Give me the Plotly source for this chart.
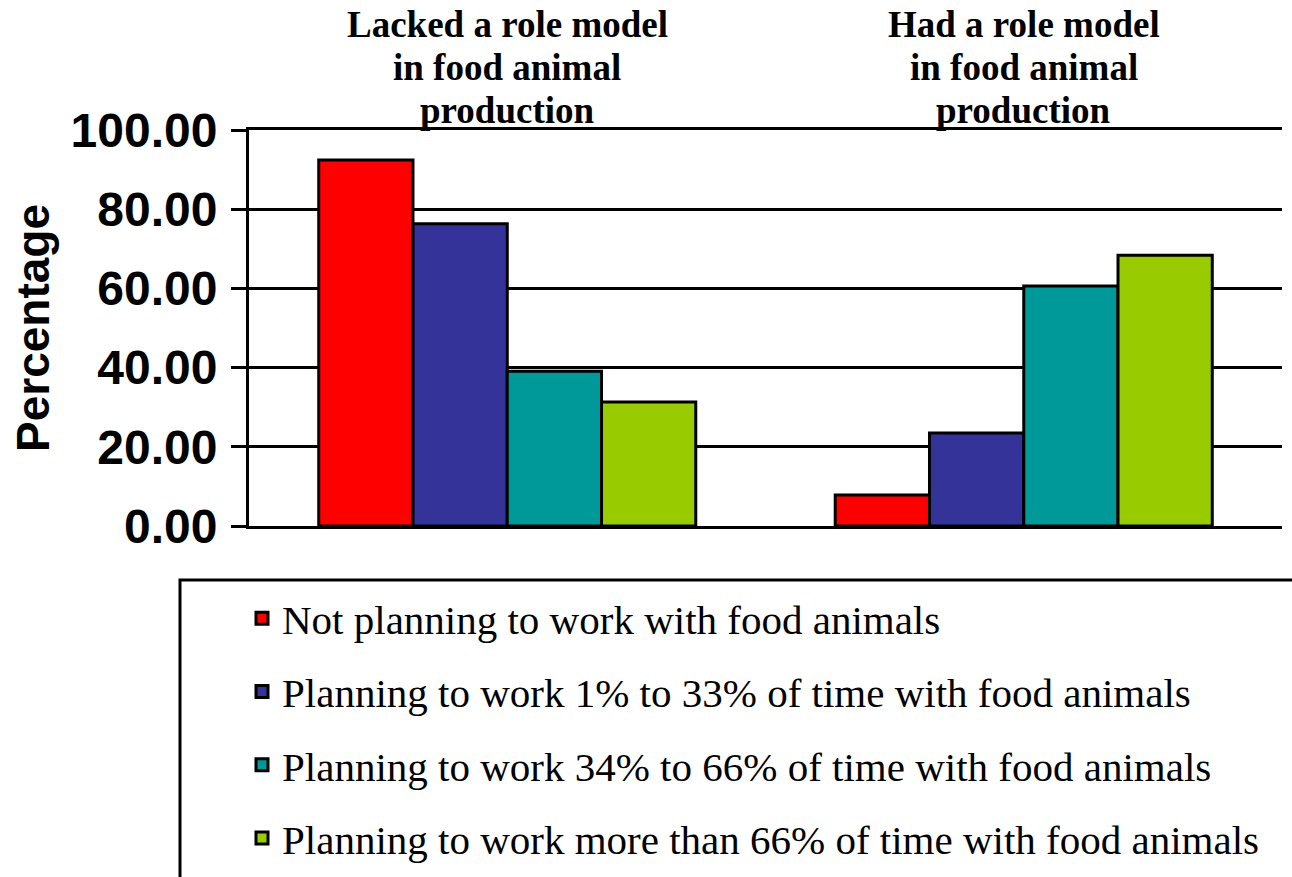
import plotly.graph_objects as go

categories = ["Lacked a role model<br>in food animal<br>production",
              "Had a role model<br>in food animal<br>production"]
series_names = [
    "Not planning to work with food animals",
    "Planning to work 1% to 33% of time with food animals",
    "Planning to work 34% to 66% of time with food animals",
    "Planning to work more than 66% of time with food animals",
]
not_planning = [92.4, 7.8]
plan_1_33 = [76.3, 23.5]
plan_34_66 = [39.1, 60.6]
plan_66_plus = [31.3, 68.4]
series_values = [not_planning, plan_1_33, plan_34_66, plan_66_plus]
colors = ["#FF0000", "#333399", "#009999", "#99CC00"]
y_ticks = [0, 20, 40, 60, 80, 100]

W, H = 1292, 877
L, R, T, B = 249, 10, 130, 351
SERIF = "Liberation Serif, Times New Roman, serif"
SANS = "Liberation Sans, Arial, sans-serif"

fig = go.Figure()
for i, (name, vals, col) in enumerate(zip(series_names, series_values, colors)):
    fig.add_trace(go.Bar(
        x=categories, y=vals, name=name,
        marker=dict(color=col, line=dict(color="black", width=3)),
        legendgroup=f"g{i}",
    ))

# category labels above the plot, one annotation per line for tight spacing
for cat in categories:
    lines = cat.split("<br>")
    n = len(lines)
    for j, line in enumerate(lines):
        fig.add_annotation(
            x=cat, y=1, xref="x", yref="paper", yanchor="bottom",
            text=f"<b>{line}</b>", showarrow=False,
            yshift=-3 + (n - 1 - j) * 43,
            font=dict(family=SERIF, size=37, color="black"),
            align="center",
        )

def px_x(p):
    return (p - L) / (W - L - R)

def px_y(p):
    return (H - B - p) / (H - T - B)

# legend frame
fig.add_shape(type="rect", xref="paper", yref="paper",
              x0=px_x(180), x1=px_x(1310), y0=px_y(900), y1=px_y(580),
              line=dict(color="black", width=3), fillcolor="rgba(0,0,0,0)")

fig.update_layout(
    width=W, height=H,
    margin=dict(l=L, r=R, t=T, b=B, autoexpand=False),
    paper_bgcolor="white", plot_bgcolor="white",
    font=dict(family=SERIF, color="black"),
    barmode="group", bargap=0.27, bargroupgap=0,
    showlegend=True,
    legend=dict(
        x=px_x(242), y=px_y(585), xanchor="left", yanchor="top",
        font=dict(family=SERIF, size=41, color="black"),
        tracegroupgap=17, bgcolor="rgba(0,0,0,0)", borderwidth=0,
        traceorder="grouped",
    ),
    xaxis=dict(showticklabels=False, ticks="", showgrid=False,
               showline=True, linecolor="black", linewidth=3, mirror=True,
               zeroline=False, automargin=False),
    yaxis=dict(
        range=[0, 100], tickvals=y_ticks, tickformat=".2f",
        showgrid=True, gridcolor="black", gridwidth=3,
        showline=True, linecolor="black", linewidth=3,
        ticks="outside", ticklen=15, tickwidth=3, tickcolor="black",
        zeroline=False, automargin=False,
        ticklabelstandoff=4,
        tickfont=dict(family=SANS, size=48, color="black", weight="bold"),
        title=dict(text="<b>Percentage</b>", standoff=7,
                   font=dict(family=SANS, size=46, color="black")),
    ),
)

fig.write_html("out.html", config={"displayModeBar": False},
               post_script="document.body.style.margin='0';")
